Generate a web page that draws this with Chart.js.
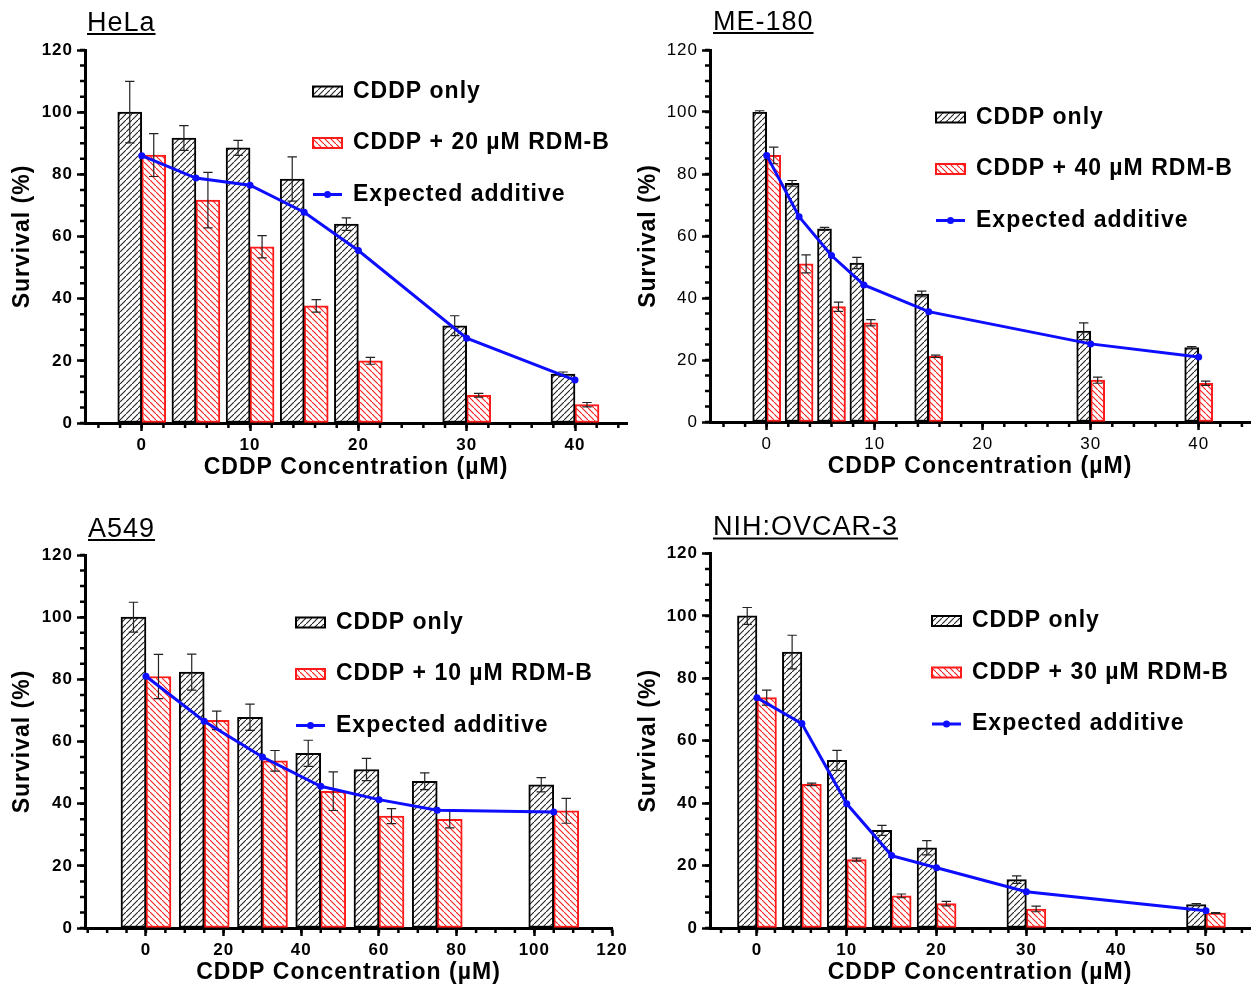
<!DOCTYPE html>
<html>
<head>
<meta charset="utf-8">
<script src="https://cdn.jsdelivr.net/npm/chart.js@4.4.1/dist/chart.umd.min.js"></script>
<style>
  html, body { margin: 0; padding: 0; background: #fff; }
  #wrap { position: relative; width: 1255px; height: 989px; }
  #wrap canvas { position: absolute; left: 0; top: 0; }
</style>
</head>
<body>
<div id="wrap">
  <canvas id="hela" width="1255" height="989"></canvas>
  <canvas id="me180" width="1255" height="989"></canvas>
  <canvas id="a549" width="1255" height="989"></canvas>
  <canvas id="ovcar" width="1255" height="989"></canvas>
</div>
<script>
// HeLa
const helaConc = [0, 5, 10, 15, 20, 30, 40];
const helaCddp = [100, 91.7, 88.5, 78.5, 64, 31.3, 15.7];
const helaCddpErr = [9.9, 4, 2.4, 7.1, 2, 3.2, 0.7];
const helaCombo = [86.2, 71.7, 56.7, 37.7, 20, 8.9, 5.9];
const helaComboErr = [6.9, 8.9, 3.6, 2, 1.1, 0.6, 0.7];
const helaExpected = [86, 78.8, 76.5, 67.8, 55.5, 27.3, 13.8];
const helaXTicks = [0, 10, 20, 30, 40];

// ME-180
const meConc = [0, 3, 6, 9, 15, 30, 40];
const meCddp = [100, 77, 62.3, 51.3, 41.3, 29.3, 24];
const meCddpErr = [0.4, 0.9, 0.5, 1.8, 0.9, 2.7, 0.3];
const meCombo = [86, 51, 37.2, 32, 21.2, 13.5, 12.5];
const meComboErr = [2.7, 2.9, 1.5, 1, 0.4, 1, 0.7];
const meExpected = [86, 66.2, 53.7, 44.2, 35.6, 25.2, 21];
const meXTicks = [0, 10, 20, 30, 40];

// A549
const a549Conc = [0, 15, 30, 45, 60, 75, 105];
const a549Cddp = [100, 82.3, 67.8, 56.2, 51, 47.2, 46.1];
const a549CddpErr = [4.8, 5.8, 4.2, 4.2, 3.6, 2.7, 2.3];
const a549Combo = [80.9, 66.8, 53.8, 44, 36, 35, 37.7];
const a549ComboErr = [7.1, 3, 3.3, 6.2, 2.4, 2.8, 4];
const a549Expected = [81, 66.5, 55, 45.6, 41.3, 37.9, 37.3];
const a549XTicks = [0, 20, 40, 60, 80, 100, 120];

// NIH:OVCAR-3
const ovConc = [0, 5, 10, 15, 20, 30, 50];
const ovCddp = [100, 88.4, 53.7, 31.3, 25.7, 15.5, 7.5];
const ovCddpErr = [2.7, 5.4, 3.2, 1.6, 2.3, 1.2, 0.3];
const ovCombo = [73.8, 46, 21.9, 10.3, 7.8, 6.1, 4.8];
const ovComboErr = [2.4, 0.4, 0.5, 0.6, 0.7, 0.9, 0.1];
const ovExpected = [73.8, 65.5, 39.8, 23.2, 19.3, 11.6, 5.5];
const ovXTicks = [0, 10, 20, 30, 40, 50];

const yTickValues = [0, 20, 40, 60, 80, 100, 120];

const FONT = "'Liberation Sans', Arial, Helvetica, sans-serif";
const BLUE = '#0d0dff';
const RED = '#ff1a1a';

function hatch(color, dir) {
  const c = document.createElement('canvas');
  c.width = 6; c.height = 6;
  const g = c.getContext('2d');
  g.fillStyle = '#fff';
  g.fillRect(0, 0, 6, 6);
  g.strokeStyle = color;
  g.lineWidth = 1.1;
  g.beginPath();
  if (dir === '/') {
    g.moveTo(-1, 7); g.lineTo(7, -1);
  } else {
    g.moveTo(-1, -1); g.lineTo(7, 7);
  }
  g.stroke();
  return g.createPattern(c, 'repeat');
}
const blackHatch = hatch('#222', '/');
const redHatch = hatch(RED, '\\');

// error bars drawn right after each bar dataset
const errorBars = {
  id: 'errorBars',
  afterDatasetDraw(chart, args) {
    const ds = chart.data.datasets[args.index];
    if (!ds.errors) return;
    const ctx = chart.ctx;
    const y = chart.scales.y;
    ctx.save();
    ctx.strokeStyle = '#222';
    ctx.lineWidth = 1.2;
    args.meta.data.forEach((bar, i) => {
      const v = ds.data[i].y, e = ds.errors[i];
      const top = y.getPixelForValue(v + e);
      const bot = y.getPixelForValue(v - e);
      const x = bar.x, w = 4.7;
      ctx.beginPath();
      ctx.moveTo(x, top); ctx.lineTo(x, bot);
      ctx.moveTo(x - w, top); ctx.lineTo(x + w, top);
      ctx.moveTo(x - w, bot); ctx.lineTo(x + w, bot);
      ctx.stroke();
    });
    ctx.restore();
  }
};

function decoPlugin(L) {
  return {
    id: 'panelDeco',
    beforeDraw(chart) {
      chart.ctx.letterSpacing = '1px';
    },
    afterDraw(chart) {
      const ctx = chart.ctx;
      const xs = chart.scales.x, ys = chart.scales.y;
      ctx.save();
      // minor ticks
      ctx.strokeStyle = '#000';
      ctx.lineWidth = 2.5;
      ctx.beginPath();
      for (let v = Math.ceil(xs.min / L.minorX) * L.minorX; v <= xs.max; v += L.minorX) {
        const px = xs.getPixelForValue(v);
        ctx.moveTo(px, xs.top); ctx.lineTo(px, xs.top + 5);
      }
      for (let v = 0; v <= ys.max; v += 5) {
        const py = ys.getPixelForValue(v);
        ctx.moveTo(ys.right, py); ctx.lineTo(ys.right - 5, py);
      }
      ctx.stroke();

      // panel title, underlined
      ctx.letterSpacing = '1px';
      ctx.font = '27px ' + FONT;
      ctx.fillStyle = '#000';
      ctx.textBaseline = 'alphabetic';
      ctx.textAlign = 'left';
      ctx.fillText(L.title, L.titleX, L.titleBase);
      const tw = ctx.measureText(L.title).width;
      ctx.fillRect(L.titleX, L.titleBase + 2.5, tw, 2);

      // legend
      ctx.font = 'bold 23px ' + FONT;
      chart.data.datasets.forEach((ds, k) => {
        const base = L.legendY + k * L.legendDy;
        const cy = base - 6;
        const x0 = L.legendX;
        if (ds.type === 'line') {
          ctx.strokeStyle = BLUE;
          ctx.lineWidth = 3;
          ctx.beginPath();
          ctx.moveTo(x0, cy); ctx.lineTo(x0 + 29, cy);
          ctx.stroke();
          ctx.fillStyle = BLUE;
          ctx.beginPath();
          ctx.arc(x0 + 14.5, cy, 3.5, 0, Math.PI * 2);
          ctx.fill();
        } else {
          ctx.fillStyle = ds.backgroundColor;
          ctx.fillRect(x0, cy - 5, 29, 10);
          ctx.strokeStyle = ds.borderColor;
          ctx.lineWidth = 2;
          ctx.strokeRect(x0, cy - 5, 29, 10);
        }
        ctx.fillStyle = '#000';
        ctx.fillText(ds.label, x0 + 40, base);
      });
      ctx.restore();
    }
  };
}

function pts(xs, ys) {
  return xs.map((x, i) => ({ x: x, y: ys[i] }));
}

function makePanel(id, L, conc, cddp, cddpErr, combo, comboErr, expected, comboLabel, xTicks) {
  const titleFont = { family: FONT, size: 23, weight: 'bold' };
  const tickFont = { family: FONT, size: 17, weight: L.tickWeight };
  new Chart(document.getElementById(id), {
    type: 'bar',
    data: {
      datasets: [
        {
          label: 'CDDP only',
          data: pts(conc, cddp),
          errors: cddpErr,
          backgroundColor: blackHatch,
          borderColor: '#000',
          borderWidth: 2,
          borderSkipped: false,
          barThickness: L.barWidth,
          order: 1
        },
        {
          label: comboLabel,
          data: pts(conc, combo),
          errors: comboErr,
          backgroundColor: redHatch,
          borderColor: RED,
          borderWidth: 2,
          borderSkipped: false,
          barThickness: L.barWidth,
          order: 1
        },
        {
          type: 'line',
          label: 'Expected additive',
          data: pts(conc, expected),
          borderColor: BLUE,
          backgroundColor: BLUE,
          borderWidth: 3,
          pointRadius: 3.5,
          pointBackgroundColor: BLUE,
          pointBorderWidth: 0,
          tension: 0,
          order: 0
        }
      ]
    },
    options: {
      responsive: false,
      animation: false,
      events: [],
      layout: {
        padding: {
          left: L.yTitleX - 13.8,
          top: L.top,
          right: 1255 - L.right,
          bottom: 989 - (L.xTitleY + 13.8)
        }
      },
      plugins: { legend: { display: false }, tooltip: { enabled: false }, title: { display: false } },
      scales: {
        x: {
          type: 'linear',
          min: L.xMin,
          max: L.xMax,
          offset: false,
          afterFit(s) { s.height = L.xTitleY + 13.8 - L.bottom; },
          afterBuildTicks(s) { s.ticks = xTicks.map(v => ({ value: v })); },
          border: { display: true, color: '#000', width: 3 },
          grid: { offset: false, drawOnChartArea: false, drawTicks: true, tickLength: 8, tickWidth: 2.5, color: '#000', tickColor: '#000' },
          ticks: {
            autoSkip: false,
            maxRotation: 0,
            padding: 4,
            color: '#000',
            font: tickFont
          },
          title: { display: true, text: 'CDDP Concentration (µM)', color: '#000', font: titleFont, padding: 0 }
        },
        y: {
          min: 0,
          max: 120,
          afterFit(s) { s.width = L.left - (L.yTitleX - 13.8); },
          afterBuildTicks(s) { s.ticks = yTickValues.map(v => ({ value: v })); },
          border: { display: true, color: '#000', width: 3 },
          grid: { drawOnChartArea: false, drawTicks: true, tickLength: 8, tickWidth: 2.5, color: '#000', tickColor: '#000' },
          ticks: { padding: 4, color: '#000', font: tickFont },
          title: { display: true, text: 'Survival (%)', color: '#000', font: titleFont, padding: 0 }
        }
      }
    },
    plugins: [errorBars, decoPlugin(L)]
  });
}

const helaLayout = {
  left: 85, right: 627, top: 50, bottom: 423, yTitleX: 22.5, xTitleY: 467.5,
  xMin: -5.24, xMax: 44.8, minorX: 2, barWidth: 24, tickWeight: 'bold',
  title: 'HeLa', titleX: 87, titleBase: 30.5, legendX: 313, legendY: 97.5, legendDy: 51.5
};
const meLayout = {
  left: 710, right: 1250, top: 50, bottom: 422, yTitleX: 648.5, xTitleY: 466.5,
  xMin: -5.25, xMax: 44.75, minorX: 2, barWidth: 14, tickWeight: 'normal',
  title: 'ME-180', titleX: 713, titleBase: 29.5, legendX: 936, legendY: 123.5, legendDy: 51.5
};
const a549Layout = {
  left: 85, right: 612, top: 555, bottom: 928, yTitleX: 22.5, xTitleY: 972.5,
  xMin: -15.7, xMax: 120, minorX: 5, barWidth: 25, tickWeight: 'bold',
  title: 'A549', titleX: 88, titleBase: 536.5, legendX: 296, legendY: 628.5, legendDy: 51.5
};
const ovLayout = {
  left: 710, right: 1250, top: 553.5, bottom: 928, yTitleX: 648.5, xTitleY: 972.5,
  xMin: -5.23, xMax: 54.9, minorX: 2, barWidth: 19.5, tickWeight: 'bold',
  title: 'NIH:OVCAR-3', titleX: 713, titleBase: 535, legendX: 932, legendY: 627, legendDy: 51.5
};

makePanel('hela', helaLayout, helaConc, helaCddp, helaCddpErr, helaCombo, helaComboErr, helaExpected, 'CDDP + 20 µM RDM-B', helaXTicks);
makePanel('me180', meLayout, meConc, meCddp, meCddpErr, meCombo, meComboErr, meExpected, 'CDDP + 40 µM RDM-B', meXTicks);
makePanel('a549', a549Layout, a549Conc, a549Cddp, a549CddpErr, a549Combo, a549ComboErr, a549Expected, 'CDDP + 10 µM RDM-B', a549XTicks);
makePanel('ovcar', ovLayout, ovConc, ovCddp, ovCddpErr, ovCombo, ovComboErr, ovExpected, 'CDDP + 30 µM RDM-B', ovXTicks);
</script>
</body>
</html>
